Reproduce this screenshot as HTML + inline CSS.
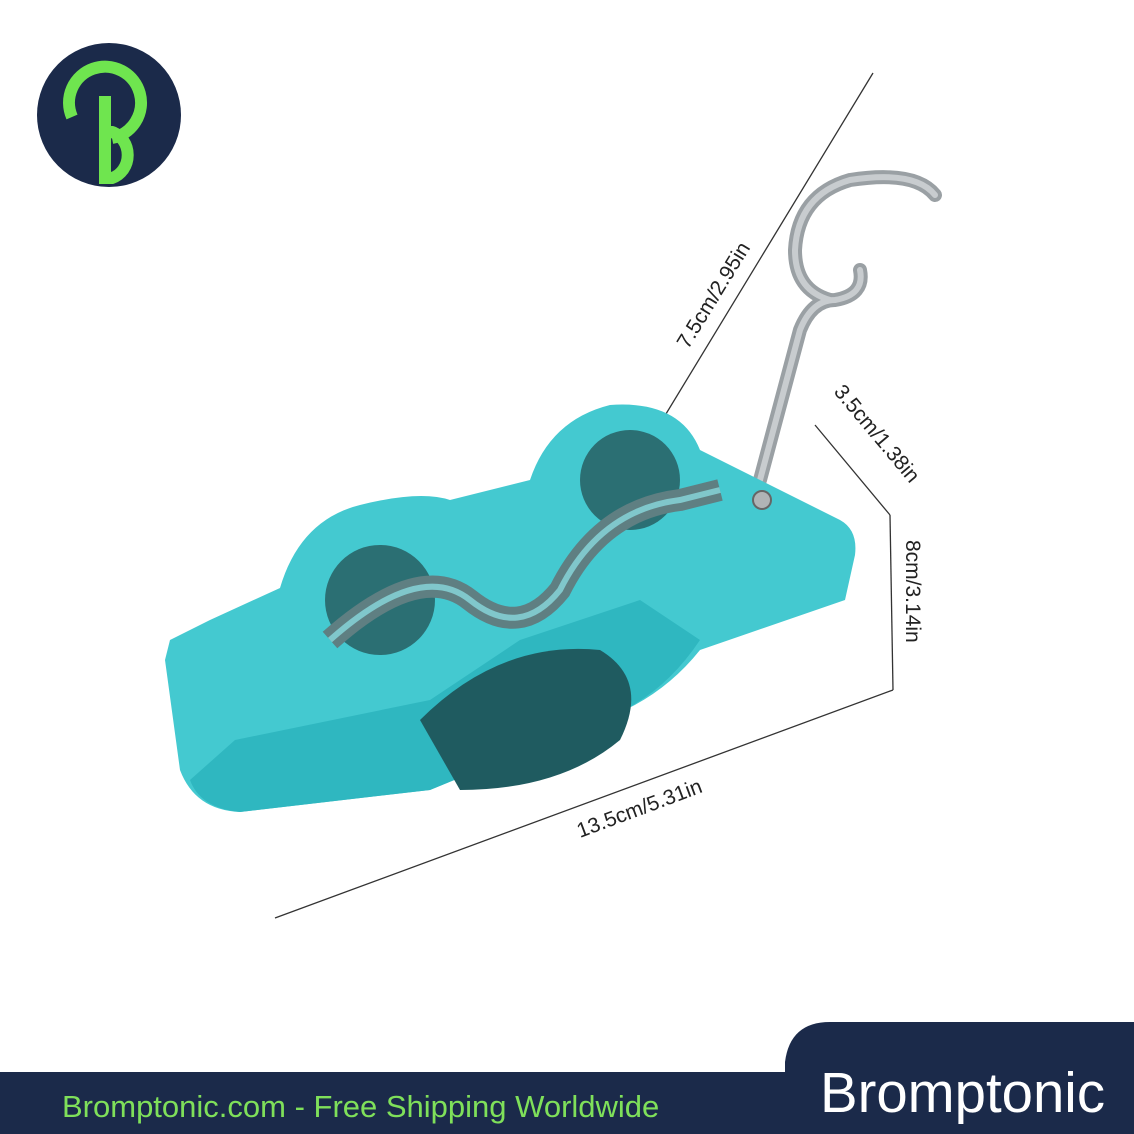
<!DOCTYPE html>
<html><head><meta charset="utf-8"><style>
html,body{margin:0;padding:0;background:#fff;}
svg{display:block;}
text{font-family:"Liberation Sans",Arial,sans-serif;}
</style></head><body>
<svg width="1134" height="1134" viewBox="0 0 1134 1134" xmlns="http://www.w3.org/2000/svg">
<rect width="1134" height="1134" fill="#fff"/>
<circle cx="109" cy="115" r="72" fill="#1b2a4a"/>
<path d="M72 117 A36 36 0 1 1 112 138" fill="none" stroke="#6fe54f" stroke-width="12"/>
<path d="M105 96 V178 H112 A22 24 0 0 0 112 132 H105" fill="none" stroke="#6fe54f" stroke-width="12"/>
<g stroke="#333" stroke-width="1.3" fill="none">
<line x1="275" y1="918" x2="893" y2="690"/>
<line x1="893" y1="690" x2="890" y2="515"/>
<line x1="890" y1="515" x2="815" y2="425"/>
<line x1="655" y1="432" x2="873" y2="73"/>
</g>
<g fill="#222" font-size="21">
<text transform="translate(580,838) rotate(-20.5)">13.5cm/5.31in</text>
<text transform="translate(906,540) rotate(90)">8cm/3.14in</text>
<text transform="translate(833,392) rotate(50)">3.5cm/1.38in</text>
<text transform="translate(688,350) rotate(-58.5)">7.5cm/2.95in</text>
</g>
<path d="M760 480 L800 330 Q812 300 835 300 Q865 295 860 270 M830 300 Q795 290 795 250 Q798 195 850 180 Q915 170 935 195" fill="none" stroke="#9aa0a4" stroke-width="14" stroke-linecap="round"/>
<path d="M760 480 L800 330 Q812 300 835 300 Q865 295 860 270 M830 300 Q795 290 795 250 Q798 195 850 180 Q915 170 935 195" fill="none" stroke="#c8cccf" stroke-width="6" stroke-linecap="round"/>
<path d="M165 660 L170 640 L210 620 L280 588 Q300 520 360 505 Q420 490 450 500 L530 480 Q550 420 610 405 Q680 400 700 450 L840 520 Q858 530 855 555 L845 600 L700 650 Q660 700 600 720 L430 790 L240 812 Q195 810 180 770 Z" fill="#44c9d0"/>
<path d="M235 740 L430 700 L520 640 L640 600 L700 640 Q660 700 600 720 L430 790 L240 812 Q200 808 190 780 Z" fill="#2fb7c0"/>
<path d="M420 720 Q500 640 600 650 Q650 680 620 740 Q560 790 460 790 Z" fill="#1f5b60"/>
<circle cx="380" cy="600" r="55" fill="#2b6f73"/>
<circle cx="630" cy="480" r="50" fill="#2b6f73"/>
<path d="M330 640 Q420 560 470 600 Q520 640 560 590 Q600 510 680 500 L720 490" fill="none" stroke="#5f7f82" stroke-width="22"/>
<path d="M330 640 Q420 560 470 600 Q520 640 560 590 Q600 510 680 500 L720 490" fill="none" stroke="#8fe5ea" stroke-width="6" opacity="0.7"/>
<circle cx="762" cy="500" r="9" fill="#b0b4b6" stroke="#666" stroke-width="2"/>
<rect x="0" y="1072" width="1134" height="62" fill="#1b2a4a"/>
<path d="M785 1134 L785 1062 Q790 1022 830 1022 L1134 1022 L1134 1134 Z" fill="#1b2a4a"/>
<text x="62" y="1117" font-size="31" fill="#7fe05a">Bromptonic.com - Free Shipping Worldwide</text>
<text x="820" y="1112" font-size="57" fill="#fff" textLength="285" lengthAdjust="spacingAndGlyphs">Bromptonic</text>
</svg>
</body></html>
